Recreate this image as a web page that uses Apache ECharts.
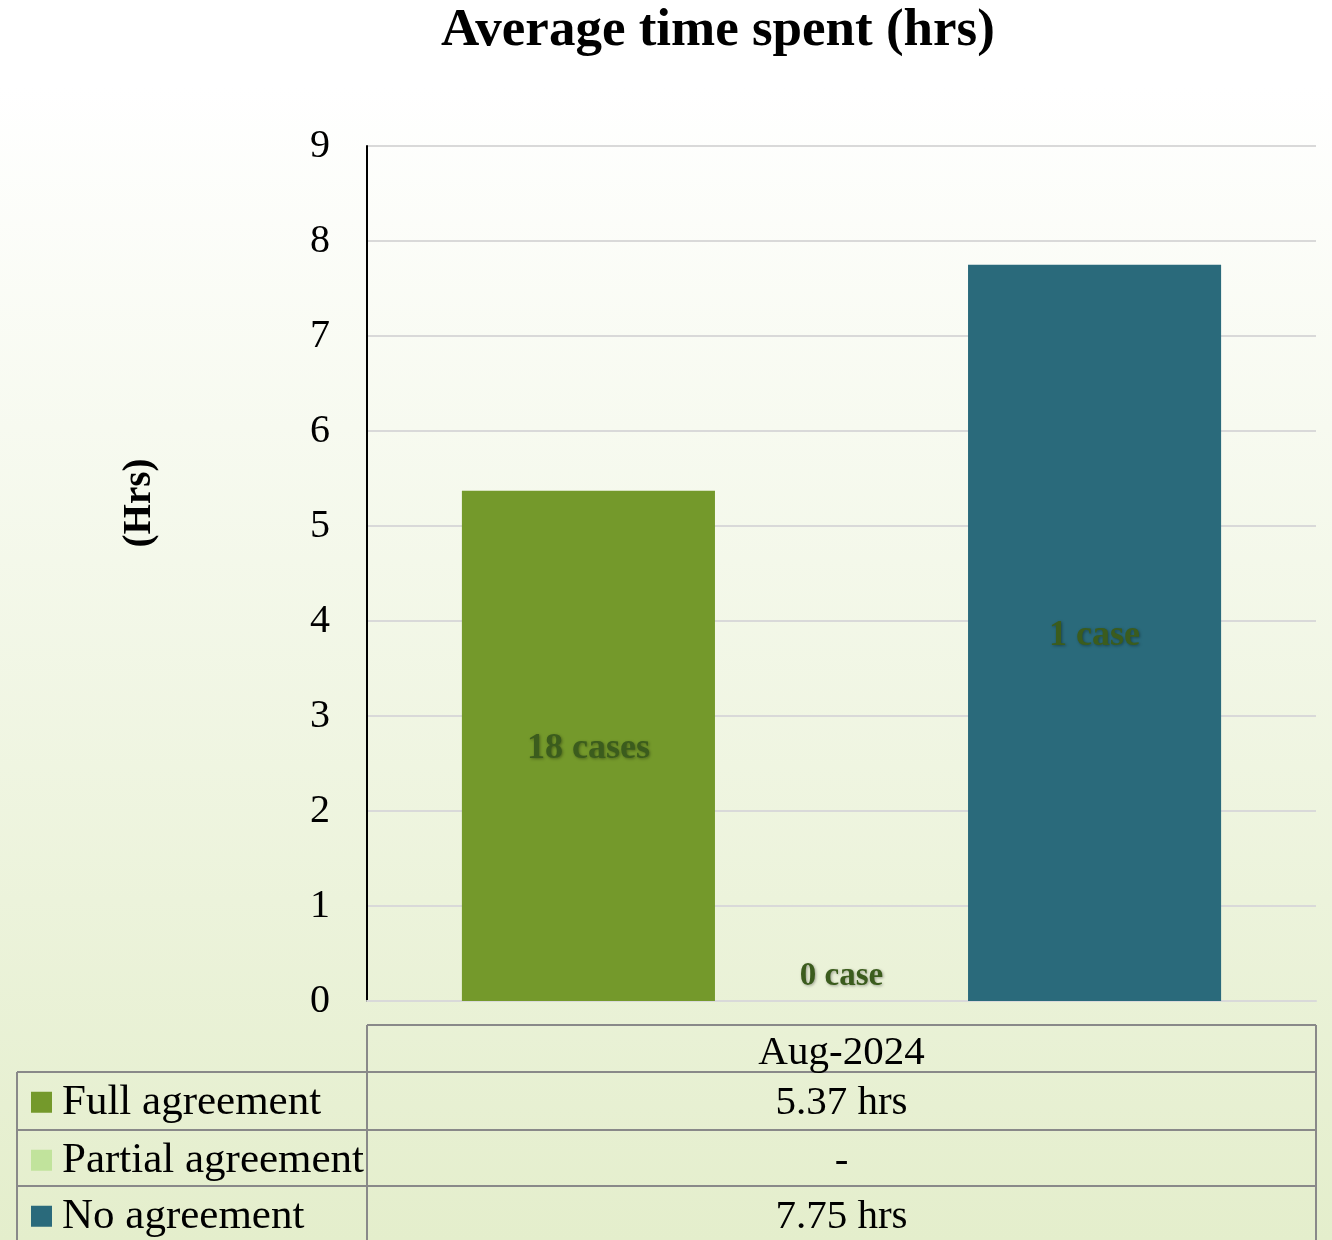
<!DOCTYPE html>
<html>
<head>
<meta charset="utf-8">
<title>Average time spent (hrs)</title>
<script src="https://cdn.jsdelivr.net/npm/echarts@6/dist/echarts.min.js"></script>
<style>
  html, body { margin: 0; padding: 0; }
  #chart { width: 1332px; height: 1240px; }
</style>
</head>
<body>
<div id="chart"></div>
<script>
const months = ["Aug-2024"];
const seriesNames = ["Full agreement", "Partial agreement", "No agreement"];
const avgHours = [5.37, 0, 7.75];
const caseLabels = ["18 cases", "0 case", "1 case"];
const seriesColors = ["#74992B", "#C1E39C", "#2A6A7B"];
const yTicks = { min: 0, max: 9, interval: 1 };

const font = "'Liberation Serif', 'Times New Roman', serif";
const labelColor = "#3B5C1D";

// table geometry (px)
const tableLeft = 17;
const tableSplit = 367;
const tableRight = 1316;
const headerTop = 1025;
const rowTops = [1072, 1130, 1186];
const rowHeight = 56.5;
const lineColor = "#898989";

const chart = echarts.init(document.getElementById("chart"));

const series = seriesNames.map((name, i) => ({
  name: name,
  type: "bar",
  data: [avgHours[i]],
  barGap: "0%",
  barCategoryGap: "20%",
  itemStyle: { color: seriesColors[i] },
  label: {
    show: true,
    position: avgHours[i] > 0 ? "inside" : "top",
    distance: 8,
    offset: avgHours[i] > 0 ? [0, 3] : [0, 0],
    formatter: () => caseLabels[i],
    fontFamily: font,
    fontWeight: "bold",
    fontSize: avgHours[i] > 0 ? 36 : 33,
    color: labelColor,
    textShadowColor: "rgba(0,0,0,0.35)",
    textShadowBlur: 3,
    textShadowOffsetX: 1,
    textShadowOffsetY: 1,
  },
}));

// one legend per table row so each key sits in its own cell
const legends = seriesNames.map((name, i) => ({
  orient: "vertical",
  left: 31,
  top: rowTops[i] + rowHeight / 2 - 20,
  padding: 0,
  itemWidth: 21,
  itemHeight: 21,
  itemStyle: { borderWidth: 0 },
  icon: "rect",
  selectedMode: false,
  textStyle: {
    fontFamily: font,
    fontSize: 43,
    lineHeight: 44,
    padding: [0, 0, 0, 5],
    color: "#000",
  },
  data: [name],
}));

const tableGraphics = [];
const line = (x1, y1, x2, y2) => ({
  type: "line",
  shape: { x1, y1, x2, y2 },
  style: { stroke: lineColor, lineWidth: 2 },
  silent: true,
});

tableGraphics.push(line(tableSplit, headerTop, tableRight, headerTop));
rowTops.forEach((y) => tableGraphics.push(line(tableLeft, y, tableRight, y)));
tableGraphics.push(line(tableLeft, rowTops[0], tableLeft, 1240));
tableGraphics.push(line(tableSplit, headerTop, tableSplit, 1240));
tableGraphics.push(line(tableRight, headerTop, tableRight, 1240));

avgHours.forEach((v, i) => {
  tableGraphics.push({
    type: "text",
    style: {
      x: (tableSplit + tableRight) / 2,
      y: rowTops[i] + rowHeight / 2 + 3,
      text: v > 0 ? `${v.toFixed(2)} hrs` : "-",
      textAlign: "center",
      textVerticalAlign: "middle",
      font: `41px ${font}`,
      fill: "#000",
    },
    silent: true,
  });
});

// y axis title, sits above the middle of the axis like the original
tableGraphics.push({
  type: "text",
  x: 140,
  y: 503,
  rotation: Math.PI / 2,
  style: {
    text: "(Hrs)",
    textAlign: "center",
    textVerticalAlign: "middle",
    font: `bold 39px ${font}`,
    fill: "#000",
  },
  silent: true,
});

chart.setOption({
  backgroundColor: {
    type: "linear",
    x: 0, y: 0, x2: 0, y2: 1,
    colorStops: [
      { offset: 0, color: "#FFFFFF" },
      { offset: 0.07, color: "#FFFFFF" },
      { offset: 1, color: "#E4EECC" },
    ],
  },
  animation: false,
  title: {
    text: "Average time spent (hrs)",
    left: 436,
    top: 0,
    textStyle: {
      fontFamily: font,
      fontWeight: "bold",
      fontSize: 53,
      color: "#000",
    },
  },
  legend: legends,
  grid: {
    left: 367,
    right: 16,
    top: 146,
    bottom: 239,
    containLabel: false,
  },
  xAxis: {
    type: "category",
    data: months,
    axisTick: { show: false },
    axisLine: { lineStyle: { color: "#D9D9D9", width: 2 } },
    axisLabel: {
      margin: 32,
      fontFamily: font,
      fontSize: 41,
      color: "#000",
    },
  },
  yAxis: {
    type: "value",
    min: yTicks.min,
    max: yTicks.max,
    interval: yTicks.interval,
    axisLine: { show: true, lineStyle: { color: "#000", width: 2 } },
    axisTick: { show: false },
    axisLabel: {
      margin: 37,
      fontFamily: font,
      fontSize: 40,
      color: "#000",
    },
    splitLine: { lineStyle: { color: "#D9D9D9", width: 2 } },
  },
  series: series,
  graphic: tableGraphics,
});
</script>
</body>
</html>
